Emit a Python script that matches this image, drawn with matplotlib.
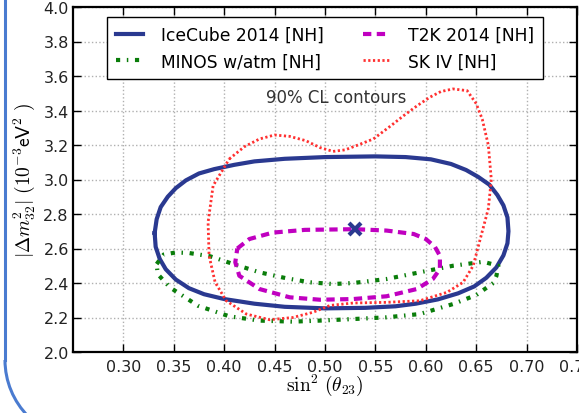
import matplotlib
matplotlib.use("Agg")
import matplotlib.pyplot as plt
from matplotlib.patches import Arc
from matplotlib.lines import Line2D
from matplotlib.transforms import IdentityTransform

plt.rcParams["mathtext.fontset"] = "cm"
plt.rcParams["font.family"] = "DejaVu Sans"

# 90% CL contours in (sin^2 theta23, |dm^2_32| [1e-3 eV^2])
icecube_x = [0.331, 0.333, 0.337, 0.344, 0.352, 0.362, 0.375, 0.390, 0.410, 0.430,
             0.460, 0.500, 0.550, 0.580, 0.605, 0.625, 0.640, 0.652, 0.663, 0.671,
             0.677, 0.681, 0.682, 0.681, 0.677, 0.670, 0.660, 0.648, 0.632, 0.612,
             0.590, 0.570, 0.540, 0.500, 0.460, 0.430, 0.400, 0.380, 0.365, 0.352,
             0.342, 0.336, 0.332]
icecube_y = [2.690, 2.770, 2.840, 2.900, 2.950, 2.995, 3.035, 3.060, 3.085, 3.105,
             3.120, 3.130, 3.134, 3.130, 3.117, 3.090, 3.055, 3.015, 2.970, 2.910,
             2.850, 2.780, 2.700, 2.630, 2.560, 2.490, 2.430, 2.380, 2.340, 2.305,
             2.280, 2.265, 2.256, 2.253, 2.262, 2.280, 2.307, 2.335, 2.370, 2.420,
             2.480, 2.540, 2.610]

t2k_x = [0.413, 0.425, 0.448, 0.480, 0.530, 0.561, 0.588, 0.600, 0.609, 0.614,
         0.614, 0.607, 0.591, 0.561, 0.528, 0.495, 0.465, 0.435, 0.415, 0.411]
t2k_y = [2.600, 2.655, 2.692, 2.708, 2.712, 2.704, 2.684, 2.655, 2.610, 2.558,
         2.481, 2.423, 2.365, 2.323, 2.307, 2.303, 2.317, 2.365, 2.442, 2.520]

minos_x = [0.333, 0.340, 0.352, 0.365, 0.386, 0.409, 0.435, 0.462, 0.485, 0.508,
           0.528, 0.561, 0.594, 0.627, 0.657, 0.672, 0.670, 0.667, 0.650, 0.627,
           0.594, 0.561, 0.528, 0.495, 0.468, 0.435, 0.405, 0.374, 0.346, 0.334]
minos_y = [2.510, 2.565, 2.577, 2.574, 2.555, 2.510, 2.462, 2.427, 2.404, 2.394,
           2.400, 2.423, 2.462, 2.500, 2.523, 2.500, 2.440, 2.400, 2.330, 2.278,
           2.220, 2.201, 2.191, 2.182, 2.176, 2.182, 2.207, 2.268, 2.375, 2.452]

skiv_x = [0.405, 0.420, 0.435, 0.450, 0.465, 0.481, 0.495, 0.508, 0.520, 0.535,
          0.548, 0.565, 0.578, 0.592, 0.604, 0.615, 0.627, 0.641, 0.650, 0.656,
          0.662, 0.665, 0.662, 0.654, 0.647, 0.637, 0.621, 0.594, 0.561, 0.528,
          0.505, 0.488, 0.468, 0.445, 0.422, 0.402, 0.391, 0.385, 0.384, 0.389]
skiv_y = [3.119, 3.190, 3.235, 3.258, 3.250, 3.225, 3.185, 3.163, 3.172, 3.205,
          3.235, 3.310, 3.370, 3.430, 3.477, 3.510, 3.525, 3.515, 3.440, 3.350,
          3.200, 3.000, 2.830, 2.655, 2.500, 2.404, 2.346, 2.297, 2.288, 2.284,
          2.270, 2.230, 2.200, 2.187, 2.220, 2.297, 2.404, 2.558, 2.752, 2.964]

best_fit = (0.530, 2.713)

x_ticks = [0.30, 0.35, 0.40, 0.45, 0.50, 0.55, 0.60, 0.65, 0.70, 0.75]
y_ticks = [2.0, 2.2, 2.4, 2.6, 2.8, 3.0, 3.2, 3.4, 3.6, 3.8, 4.0]


def closed(xs, ys):
    return list(xs) + [xs[0]], list(ys) + [ys[0]]


fig = plt.figure(figsize=(5.79, 4.14), dpi=100)
ax = fig.add_axes([73 / 579, 61 / 414, 504 / 579, 345 / 414])

navy = "#2a3990"
h_ice, = ax.plot(*closed(icecube_x, icecube_y), color=navy, lw=3,
                 label="IceCube 2014 [NH]")
h_minos, = ax.plot(*closed(minos_x, minos_y), color="#0a7d0a", lw=3,
                   ls=(0, (1.0, 1.6, 0.35, 1.6)), label="MINOS w/atm [NH]")
h_sk, = ax.plot(*closed(skiv_x, skiv_y), color="#ff3030", lw=2, ls=(0, (0.8, 0.9)),
                label="SK IV [NH]")
h_t2k, = ax.plot(*closed(t2k_x, t2k_y), color="#c000c0", lw=3, ls=(0, (2.0, 1.3)),
                 label="T2K 2014 [NH]")
ax.plot(best_fit[0], best_fit[1], marker="x", color=navy, ms=9, mew=3, ls="none")

ax.text(0.511, 3.478, "90% CL contours", fontsize=12, color="#333333",
        ha="center", va="center")

ax.set_xlim(0.25, 0.75)
ax.set_ylim(2.0, 4.0)
ax.set_xticks(x_ticks)
ax.set_yticks(y_ticks)
ax.set_xticklabels([f"{v:.2f}" for v in x_ticks])
ax.set_yticklabels([f"{v:.1f}" for v in y_ticks])
ax.tick_params(direction="in", top=True, right=True, length=6, width=1,
               labelsize=11.5, colors="black", labelcolor="#222222")
ax.tick_params(axis="x", pad=5)
ax.tick_params(axis="y", pad=3)
ax.grid(True, color="#b0b0b0", ls=":", lw=1)
for sp in ax.spines.values():
    sp.set_linewidth(1.6)

ax.set_xlabel(r"$\sin^2\,(\theta_{23})$", fontsize=14)
ax.set_ylabel(r"$|\Delta m^2_{32}|\ (10^{-3}\mathsf{eV}^2\ )$", fontsize=14)
ax.xaxis.set_label_coords(0.5, -0.056)
ax.yaxis.set_label_coords(-0.071, 0.5)

leg = ax.legend(handles=[h_ice, h_minos, h_t2k, h_sk], loc="upper center", ncol=2,
                fontsize=12.3, handlelength=1.6, handletextpad=1.05,
                columnspacing=2.3, labelspacing=0.5, borderpad=0.5,
                borderaxespad=0.6, fancybox=False, framealpha=1)
leg.get_frame().set_edgecolor("black")
leg.get_frame().set_linewidth(1)

# rounded slide frame on the left edge (pixel coordinates)
frame_col = "#4a7bd0"
fig.add_artist(Line2D([5, 5], [414, 53], color=frame_col, lw=2.2,
                      transform=IdentityTransform()))
fig.add_artist(Arc((85, 53), 160, 160, theta1=180, theta2=270, color=frame_col,
                   lw=2.2, transform=IdentityTransform()))

fig.savefig("out.png", dpi=100)
